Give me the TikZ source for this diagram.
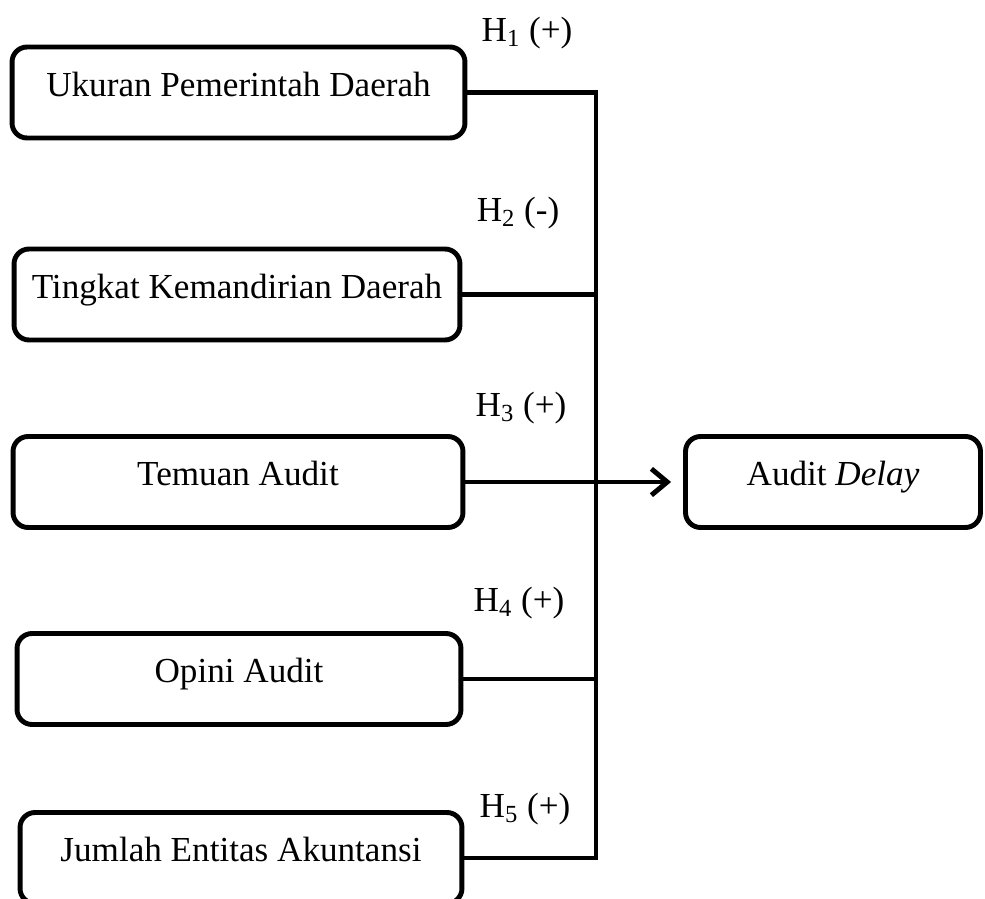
\documentclass[tikz,border=0pt]{standalone}
\usepackage{fontspec}
\setmainfont{Liberation Serif}
\usepackage{tikz}
\usetikzlibrary{arrows.meta, positioning}

\begin{document}
\begin{tikzpicture}[x=0.02cm, y=-0.02cm,
  font=\fontsize{20}{23}\selectfont,
  varbox/.style={draw, line width=2.8pt, rounded corners=0.3cm,
    minimum width=8.9cm, minimum height=1.82cm,
    text height=12pt, text depth=8pt, inner sep=0pt},
  link/.style={line width=2.8pt},
  hlabel/.style={inner sep=0pt}]
  \useasboundingbox (0,0) rectangle (985,899);
  % independent variables
  \node[varbox, minimum width=9.06cm] (ukuran)   at (238.5,92.5) {Ukuran Pemerintah Daerah};
  \node[varbox, minimum width=8.92cm] (tingkat)  at (237,294.5)  {Tingkat Kemandirian Daerah};
  \node[varbox, minimum width=9cm]    (temuan)   at (238,482)    {Temuan Audit};
  \node[varbox, minimum width=8.88cm] (opini)    at (239,679)    {Opini Audit};
  \node[varbox, minimum width=8.84cm] (jumlah)   at (241,858)    {Jumlah Entitas Akuntansi};
  % dependent variable
  \node[varbox, minimum width=5.9cm]  (delay)    at (833,482)    {Audit \textit{Delay}};
  % hypothesis labels
  \node[hlabel] (h1) at (527,33)  {H\textsubscript{1} (+)};
  \node[hlabel] (h2) at (518,213) {H\textsubscript{2} (-)};
  \node[hlabel] (h3) at (521,408) {H\textsubscript{3} (+)};
  \node[hlabel] (h4) at (519,603) {H\textsubscript{4} (+)};
  \node[hlabel] (h5) at (525,809) {H\textsubscript{5} (+)};
  % collecting line
  \coordinate (bus) at (596,0);
  \draw[link] (ukuran.east) -| (bus |- jumlah.east) -- (jumlah.east);
  \draw[link] (tingkat.east) -- (tingkat.east -| bus);
  \draw[link] (opini.east) -- (opini.east -| bus);
  \draw[link, -{Straight Barb[length=9pt,width=15pt]}, shorten >=0.24cm]
    (temuan.east) -- (delay.west);
\end{tikzpicture}
\end{document}
